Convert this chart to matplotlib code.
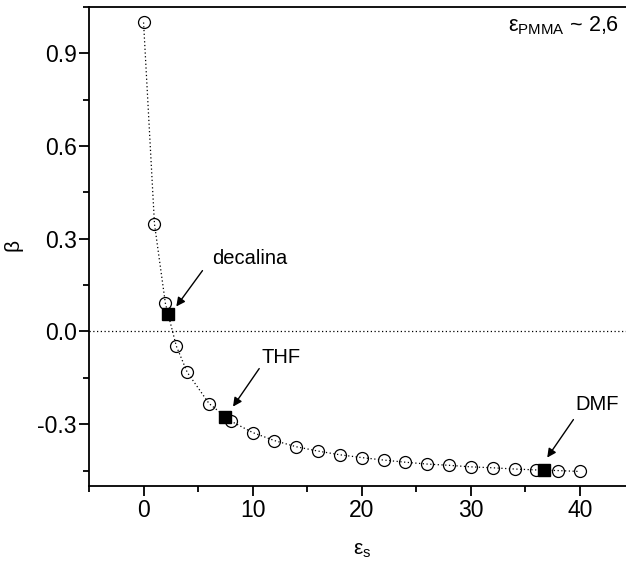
import matplotlib
matplotlib.use('Agg')
import matplotlib.pyplot as plt
from matplotlib.ticker import MultipleLocator

plt.rcParams['font.family'] = ['Liberation Sans', 'DejaVu Sans']

# beta vs solvent permittivity (eps_PMMA ~ 2.6)
eps_s = [0, 1, 2, 3, 4, 6, 8, 10, 12, 14, 16, 18, 20, 22, 24, 26, 28, 30,
         32, 34, 36, 38, 40]
beta = [1.0, 0.348, 0.091, -0.047, -0.132, -0.233, -0.290, -0.327, -0.353,
        -0.373, -0.387, -0.399, -0.408, -0.416, -0.423, -0.429, -0.433,
        -0.438, -0.441, -0.445, -0.448, -0.450, -0.453]

# solvents used
solvents = ['decalina', 'THF', 'DMF']
solv_eps = [2.2, 7.5, 36.7]
solv_beta = [0.057, -0.278, -0.449]

fig = plt.figure(figsize=(6.26, 5.65), dpi=100)
ax = fig.add_axes([0.1422, 0.1398, 0.8714, 0.8478])

ax.axhline(0, color='black', ls=(0, (1, 2)), lw=0.9)
ax.plot(eps_s, beta, color='black', ls=(0, (1, 2)), lw=0.9,
        marker='o', ms=8.6, mfc='none', mec='black', mew=0.9, zorder=3)
ax.plot(solv_eps, solv_beta, 's', color='black', ms=8.8, zorder=4)

# labels with arrows
text_pos = [(6.3, 0.236), (10.8, -0.084), (39.6, -0.236)]
tails = [(5.4, 0.197), (10.6, -0.12), (39.4, -0.285)]
heads = [(3.0, 0.081), (8.2, -0.243), (37.0, -0.408)]
for name, tp, tl, hd in zip(solvents, text_pos, tails, heads):
    ax.text(tp[0], tp[1], name, fontsize=14.5, ha='left', va='center')
    ax.annotate('', xy=hd, xytext=tl,
                arrowprops=dict(arrowstyle='-|>', color='black', lw=1,
                                mutation_scale=13, shrinkA=0, shrinkB=0))

ax.text(0.972, 0.985, r'$\mathregular{\varepsilon_{PMMA}}$ ~ 2,6',
        transform=ax.transAxes, fontsize=15.5, ha='right', va='top')

ax.set_xlim(-5, 45)
ax.set_ylim(-0.5, 1.05)
ax.xaxis.set_major_locator(MultipleLocator(10))
ax.xaxis.set_minor_locator(MultipleLocator(5))
ax.yaxis.set_major_locator(MultipleLocator(0.3))
ax.yaxis.set_minor_locator(MultipleLocator(0.15))
ax.yaxis.set_major_formatter(plt.FuncFormatter(lambda v, p: '%.1f' % v))

ax.tick_params(which='major', direction='out', length=7, width=1.3,
               labelsize=16.5, pad=2)
ax.tick_params(which='minor', direction='out', length=4, width=1.3)
for sp in ax.spines.values():
    sp.set_linewidth(1.3)

ax.set_xlabel(r'$\mathregular{\varepsilon_s}$', fontsize=15, labelpad=14)
ax.set_ylabel(r'$\mathregular{\beta}$', fontsize=15, labelpad=8)

fig.savefig('out.png', dpi=100)
